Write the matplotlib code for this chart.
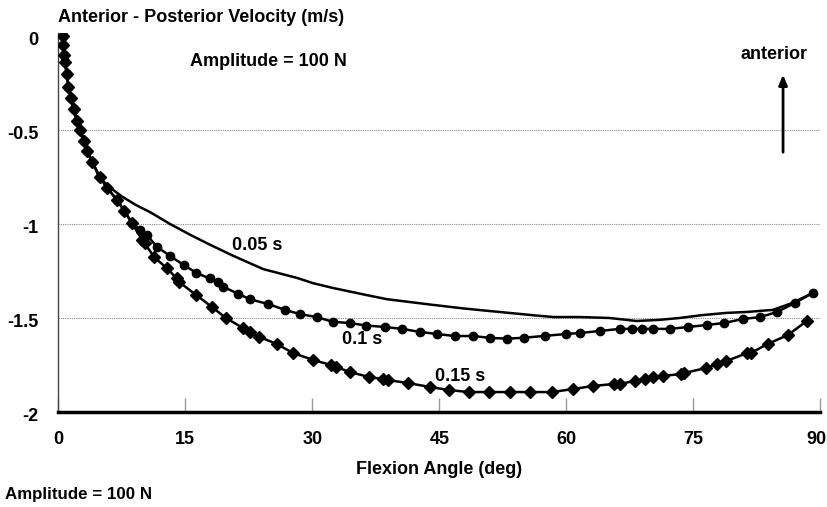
import matplotlib
matplotlib.use("Agg")
import matplotlib.pyplot as plt
from matplotlib.transforms import ScaledTranslation

plt.rcParams['font.family'] = ['Liberation Sans', 'DejaVu Sans']
plt.rcParams['font.weight'] = 'bold'

# ---- data ----
x_005 = [0.5, 0.8, 1.2, 1.8, 2.6, 3.4, 4.0, 4.9, 6.2, 7.6, 9.2, 10.8, 13.2, 15.6, 17.9, 20.6, 24.2,
         28.2, 30.1, 32.4, 36.4, 38.8, 44.2, 48, 52.1, 56, 58.5, 61.6, 65.1, 68.3, 71, 73.4, 76,
         78.9, 81.3, 84.4, 86.7, 89.1]
v_005 = [0, -0.14, -0.27, -0.39, -0.5, -0.61, -0.67, -0.755, -0.81, -0.856, -0.9, -0.936, -1.0,
         -1.058, -1.11, -1.168, -1.24, -1.287, -1.315, -1.34, -1.378, -1.40, -1.43, -1.45, -1.468,
         -1.485, -1.495, -1.495, -1.50, -1.516, -1.51, -1.50, -1.485, -1.473, -1.468, -1.457,
         -1.42, -1.367]

x_01 = [0.5, 0.6, 0.7, 0.8, 1.0, 1.2, 1.5, 1.8, 2.2, 2.6, 3.0, 3.4, 4.0, 4.9, 5.8, 6.9, 7.8, 8.7,
        9.6, 10.5, 11.6, 13.2, 14.8, 16.3, 17.9, 18.9, 19.5, 21.2, 22.6, 24.8, 26.8, 28.5, 30.5,
        32.4, 34.4, 36.4, 38.6, 40.6, 42.7, 44.7, 46.8, 49.0, 51.0, 53.0, 55.0, 57.5, 60.0, 61.6,
        64.0, 66.3, 67.8, 69.0, 70.2, 72.2, 74.4, 76.6, 78.6, 80.9, 82.9, 84.9, 87.0, 89.1]
v_01 = [0, -0.05, -0.1, -0.14, -0.2, -0.27, -0.33, -0.39, -0.45, -0.5, -0.56, -0.61, -0.67, -0.75,
        -0.81, -0.87, -0.93, -0.995, -1.03, -1.06, -1.12, -1.17, -1.218, -1.26, -1.29, -1.31,
        -1.335, -1.37, -1.40, -1.426, -1.457, -1.479, -1.495, -1.52, -1.527, -1.54, -1.548,
        -1.558, -1.574, -1.585, -1.596, -1.596, -1.606, -1.61, -1.605, -1.595, -1.585, -1.58,
        -1.569, -1.558, -1.558, -1.558, -1.558, -1.558, -1.548, -1.537, -1.527, -1.505, -1.495,
        -1.468, -1.42, -1.367]

x_015 = [0.5, 0.6, 0.7, 0.8, 1.0, 1.2, 1.5, 1.8, 2.2, 2.6, 3.0, 3.4, 4.0, 4.9, 5.8, 6.9, 7.8, 8.7,
         9.9, 10.2, 11.3, 12.8, 14.0, 14.3, 16.3, 18.1, 19.8, 21.8, 22.6, 23.7, 25.8, 27.7, 30.1,
         32.2, 32.8, 34.4, 36.7, 38.3, 38.9, 41.3, 43.9, 46.1, 48.5, 50.9, 53.3, 55.7, 58.3, 60.8,
         63.1, 65.6, 66.3, 68.1, 69.3, 70.2, 71.4, 73.6, 73.9, 76.5, 77.8, 78.9, 81.4, 81.8, 83.8,
         86.2, 88.4]
v_015 = [0, -0.05, -0.1, -0.14, -0.2, -0.27, -0.33, -0.39, -0.45, -0.5, -0.56, -0.61, -0.67, -0.75,
         -0.81, -0.87, -0.93, -0.995, -1.085, -1.10, -1.176, -1.234, -1.29, -1.31, -1.378, -1.44,
         -1.50, -1.553, -1.574, -1.60, -1.638, -1.686, -1.723, -1.75, -1.76, -1.787, -1.814,
         -1.824, -1.83, -1.846, -1.867, -1.883, -1.894, -1.894, -1.894, -1.894, -1.894, -1.878,
         -1.862, -1.851, -1.851, -1.835, -1.825, -1.814, -1.808, -1.798, -1.793, -1.766, -1.745,
         -1.729, -1.686, -1.686, -1.638, -1.59, -1.516]

x_ticks = [0, 15, 30, 45, 60, 75, 90]
y_ticks = [0, -0.5, -1, -1.5, -2]
y_tick_labels = ["0", "-0.5", "-1", "-1.5", "-2"]
series_labels = ["0.05 s", "0.1 s", "0.15 s"]

FS = 13

fig = plt.figure(figsize=(8.28, 5.07), dpi=100)
ax = fig.add_axes([0.0704, 0.1874, 0.9203, 0.7476])

ax.plot(x_005, v_005, color='black', lw=1.8, zorder=3)
ax.plot(x_01, v_01, color='black', lw=1.8, marker='o', ms=6, zorder=3)
ax.plot(x_015, v_015, color='black', lw=1.8, marker='D', ms=6.5, zorder=3)

ax.set_xlim(0, 90)
ax.set_ylim(-2, 0.016)

for yv in [-0.5, -1, -1.5]:
    ax.axhline(yv, color='#888888', lw=0.8, ls=(0, (1, 1)), zorder=1)

ax.set_xticks(x_ticks)
ax.set_yticks(y_ticks)
ax.set_yticklabels(y_tick_labels)
ax.tick_params(axis='x', direction='in', length=10, width=1, color='#999999', pad=14, labelsize=FS)
ax.tick_params(axis='y', length=0, pad=14, labelsize=FS)
for lab in ax.get_xticklabels() + ax.get_yticklabels():
    lab.set_fontweight('bold')
last = ax.get_xticklabels()[-1]
last.set_transform(last.get_transform() + ScaledTranslation(-4 / 100, 0, fig.dpi_scale_trans))
for lab in ax.get_yticklabels():
    lab.set_transform(lab.get_transform() + ScaledTranslation(0, -3 / 100, fig.dpi_scale_trans))

for s in ['top', 'right']:
    ax.spines[s].set_visible(False)
ax.spines['bottom'].set_linewidth(2.5)
ax.spines['bottom'].set_color('black')
ax.spines['left'].set_linewidth(1.0)
ax.spines['left'].set_color('#444444')

ax.set_xlabel("Flexion Angle (deg)", fontsize=FS, fontweight='bold', labelpad=9)

fig.text(58 / 828, 1 - 18 / 507, "Anterior - Posterior Velocity (m/s)", fontsize=FS,
         fontweight='bold', ha='left', va='center')
fig.text(5 / 828, 1 - 494 / 507, "Amplitude = 100 N", fontsize=12.2, fontweight='bold',
         ha='left', va='center')

ax.text(15.6, -0.138, "Amplitude = 100 N", fontsize=FS, fontweight='bold', ha='left', va='center')
ax.text(20.5, -1.117, series_labels[0], fontsize=FS, fontweight='bold', ha='left', va='center')
ax.text(33.5, -1.617, series_labels[1], fontsize=FS, fontweight='bold', ha='left', va='center')
ax.text(44.5, -1.809, series_labels[2], fontsize=FS, fontweight='bold', ha='left', va='center')
ax.text(84.5, -0.10, "anterior", fontsize=FS, fontweight='bold', ha='center', va='center')
ax.annotate("", xy=(85.6, -0.191), xytext=(85.6, -0.633),
            arrowprops=dict(arrowstyle='-|>,head_length=0.6,head_width=0.25', color='black', lw=2))

fig.savefig("out.png", dpi=100)
